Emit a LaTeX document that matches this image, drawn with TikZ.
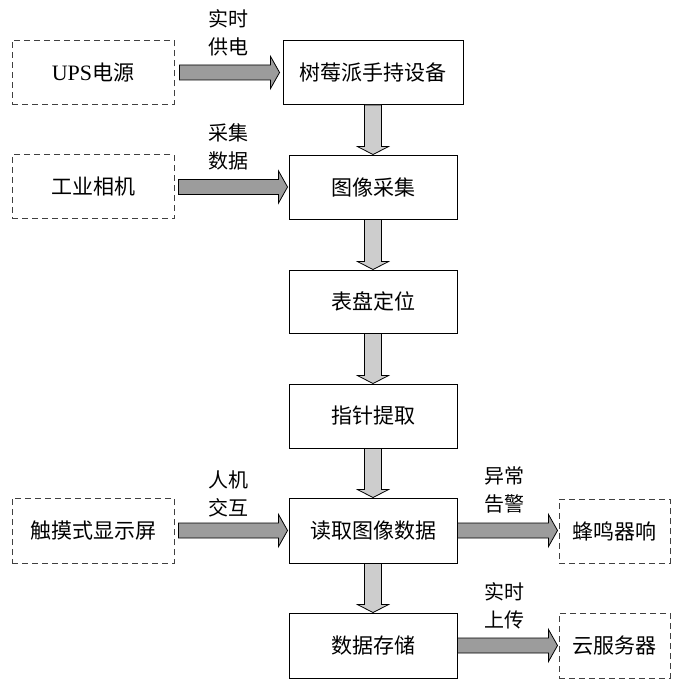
\documentclass[tikz,border=0pt]{standalone}
\usepackage{fontspec}
\setmainfont{Liberation Serif}
\newfontfamily\cjk{Noto Sans CJK SC}
\usetikzlibrary{calc}
\definecolor{harrowfill}{HTML}{9C9C9C}
\definecolor{varrowfill}{HTML}{CDCDCD}
\tikzset{
  mainbox/.style={draw=black, line width=0.9pt, fill=white, minimum width=168pt, minimum height=64pt, inner sep=0pt, font=\cjk\fontsize{21}{25}\selectfont},
  extbox/.style={draw=black!75, line width=1pt, dash pattern=on 6pt off 4pt, minimum width=162pt, minimum height=64pt, inner sep=0pt, font=\cjk\fontsize{21}{25}\selectfont},
  rextbox/.style={extbox, minimum width=111pt},
  lbl/.style={align=center, inner sep=0pt, font=\cjk\fontsize{20}{28}\selectfont},
  harrow/.style={fill=harrowfill, draw=black, line width=0.8pt, line join=miter},
  varrow/.style={fill=varrowfill, draw=black, line width=0.8pt, line join=miter}
}
% horizontal block arrow from node #1 to node #2, gaps #3 (start) #4 (end)
\newcommand\hblockarrow[4]{%
  \draw[harrow] let \p1=(#1.east), \p2=(#2.west) in
    ($(\x1+#3,\y1+7.5pt)$) -- ($(\x2-#4-9pt,\y1+7.5pt)$) -- ($(\x2-#4-9pt,\y1+16pt)$) --
    ($(\x2-#4,\y1)$) -- ($(\x2-#4-9pt,\y1-16pt)$) -- ($(\x2-#4-9pt,\y1-7.5pt)$) --
    ($(\x1+#3,\y1-7.5pt)$) -- cycle;}
% vertical block arrow from node #1 down to node #2
\newcommand\vblockarrow[2]{%
  \draw[varrow] let \p1=(#1.south), \p2=(#2.north) in
    ($(\x1-8.5pt,\y1)$) -- ($(\x1-8.5pt,\y2+8pt)$) -- ($(\x1-15.5pt,\y2+8pt)$) --
    ($(\x1,\y2)$) -- ($(\x1+15.5pt,\y2+8pt)$) -- ($(\x1+8.5pt,\y2+8pt)$) --
    ($(\x1+8.5pt,\y1)$) -- cycle;}
\begin{document}
\begin{tikzpicture}[x=1pt,y=-1pt]
\useasboundingbox (0,0) rectangle (678,684);
\fill[white] (0,0) rectangle (678,684);
% main column
\node[mainbox, minimum width=180pt] (rpi) at (373,72.5) {树莓派手持设备};
\node[mainbox] (cap) at (373,187) {图像采集};
\node[mainbox, minimum height=63pt] (loc) at (373,301.5) {表盘定位};
\node[mainbox] (ptr) at (373,416) {指针提取};
\node[mainbox, minimum height=65pt] (read) at (373,530.5) {读取图像数据};
\node[mainbox, minimum height=65pt] (store) at (373,645.5) {数据存储};
% external left
\node[extbox] (ups) at (93,72.5) {{\rmfamily\fontsize{22}{25}\selectfont UPS}电源};
\node[extbox] (cam) at (93,187) {工业相机};
\node[extbox, minimum height=65pt] (touch) at (93,530.5) {触摸式显示屏};
% external right
\node[rextbox] (buzz) at (614.5,531) {蜂鸣器响};
\node[rextbox, minimum height=65pt] (cloud) at (614.5,645.5) {云服务器};
% arrows
\hblockarrow{ups}{rpi}{5pt}{3pt}
\hblockarrow{cam}{cap}{4pt}{1pt}
\hblockarrow{touch}{read}{4pt}{1pt}
\hblockarrow{read}{buzz}{0pt}{1pt}
\hblockarrow{store}{cloud}{0pt}{1pt}
\vblockarrow{rpi}{cap}
\vblockarrow{cap}{loc}
\vblockarrow{loc}{ptr}
\vblockarrow{ptr}{read}
\vblockarrow{read}{store}
% labels
\node[lbl] (l1) at (228,33) {实时\\供电};
\node[lbl] (l2) at (228,146.5) {采集\\数据};
\node[lbl] (l3) at (228,493.5) {人机\\交互};
\node[lbl] (l4) at (504,489.5) {异常\\告警};
\node[lbl] (l5) at (504,606) {实时\\上传};
\end{tikzpicture}
\end{document}
